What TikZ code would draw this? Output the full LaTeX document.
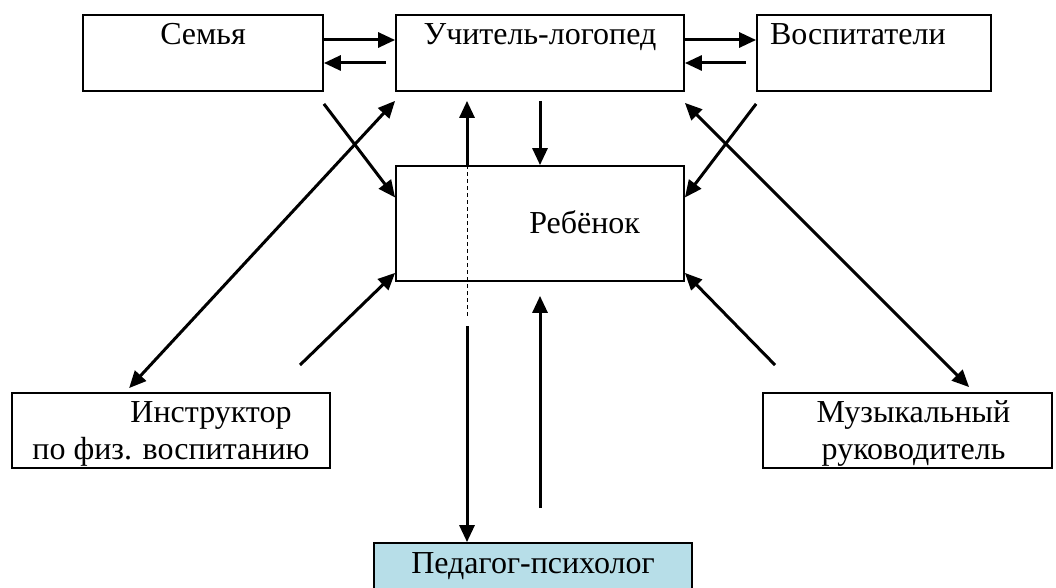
\documentclass[tikz,border=0pt]{standalone}
\usepackage{fontspec}
\setmainfont{Liberation Serif}
\usetikzlibrary{arrows.meta}
\definecolor{psyblue}{RGB}{183,222,232}

\begin{document}
\begin{tikzpicture}[x=1pt, y=-1pt, font=\fontsize{32}{37}\selectfont,
  box/.style={draw, line width=1.8pt, inner sep=0pt, minimum height=76pt, align=center},
  toptext/.style={text height=30pt, text depth=46pt},
  twoline/.style={minimum height=75pt, text height=66pt, text depth=9pt},
  arr/.style={line width=3pt, -{Triangle[length=17pt,width=15pt]}},
  dbl/.style={line width=3pt, {Triangle[length=17pt,width=15pt]}-{Triangle[length=17pt,width=15pt]}},
  dashline/.style={line width=0.8pt, dash pattern=on 4pt off 3pt}]
  \useasboundingbox (0,0) rectangle (1056,588);
  \clip (0,0) rectangle (1056,588);

  % top row
  \node (semya) [box, toptext, minimum width=240pt] at (203,53) {Семья};
  \node (uchitel) [box, toptext, minimum width=288pt] at (540,53) {Учитель-логопед};
  \node (vosp) [box, toptext, minimum width=234pt, text width=208pt, inner xsep=13pt, align=left] at (874,53) {Воспитатели};

  % centre
  \node (reb) [box, minimum width=288pt, minimum height=115pt, text height=67pt, text depth=48pt,
    text width=200pt, inner xsep=44pt, align=right] at (540,223.5) {Ребёнок};

  % bottom row
  \node (instr) [box, twoline, minimum width=318pt] at (171,430.5)
  {\hspace*{80pt}Инструктор\\по физ. воспитанию};
  \node (music) [box, twoline, minimum width=289pt] at (907.5,430.5)
  {\hspace*{12pt}Музыкальный\\\hspace*{12pt}руководитель};
  \node (pedagog) [box, toptext, fill=psyblue, minimum width=318pt] at (533,581) {Педагог-психолог};

  \coordinate (psx) at (467,0);
  \coordinate (psdash) at (467,317);
  \coordinate (psdown) at (467,326);
  \coordinate (fizfrom) at (300,365);
  \coordinate (musfrom) at (775,365);
  \coordinate (psyfrom) at (540,508);

  % top row links
  \draw[arr] ([yshift=13pt]semya.east) -- ([yshift=13pt]uchitel.west);
  \draw[arr] ([xshift=-9pt,yshift=-10pt]uchitel.west) -- ([yshift=-10pt]semya.east);
  \draw[arr] ([yshift=13pt]uchitel.east) -- ([yshift=13pt]vosp.west);
  \draw[arr] ([xshift=-10pt,yshift=-10pt]vosp.west) -- ([yshift=-10pt]uchitel.east);

  % to the child
  \draw[arr] ([yshift=-12pt]semya.south east) -- ([yshift=26pt]reb.west);
  \draw[arr] ([yshift=-12pt]vosp.south west) -- ([yshift=26pt]reb.east);
  \draw[arr] ([yshift=-9pt]uchitel.south) -- (reb.north);
  \draw[arr] (fizfrom) -- ([yshift=9pt]reb.south west);
  \draw[arr] (musfrom) -- ([yshift=9pt]reb.south east);
  \draw[arr] (psyfrom) -- ([yshift=-14pt]reb.south);

  % long links
  \draw[dbl] ([xshift=118pt,yshift=4pt]instr.north west) -- ([yshift=-9pt]uchitel.south west);
  \draw[dbl] ([xshift=207pt,yshift=5pt]music.north west) -- ([yshift=-11pt]uchitel.south east);
  \draw[arr, shorten >=9pt] (reb.north -| psx) -- (uchitel.south -| psx);
  \draw[dashline] (reb.north -| psx) -- (psdash);
  \draw[arr] (psdown) -- (pedagog.north -| psx);
\end{tikzpicture}
\end{document}
